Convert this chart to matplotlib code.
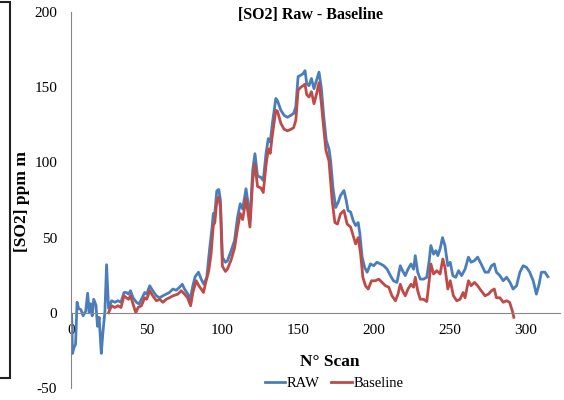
import matplotlib
matplotlib.use("Agg")
import matplotlib.pyplot as plt
from matplotlib.patches import Rectangle

plt.rcParams['font.family'] = ['Liberation Serif', 'DejaVu Serif']
plt.rcParams['axes.unicode_minus'] = False

# RAW series (scan number, value)
scan_raw = [0.4, 1, 2, 3, 4, 5, 6.6, 8, 9.7, 11, 12, 13, 14, 15, 16.5, 17.5, 18.6, 20, 21, 22.4,
            23.5, 24.8, 26.8, 29, 31, 33, 35, 36.6, 38, 39.3, 41, 43.2, 45, 46.5, 48.7, 50, 52, 54,
            56.4, 58.6, 60.7, 62.9, 65, 67.3, 69.5, 71.7, 73.5, 75, 77.2, 78.7, 80.5, 82, 84.2, 86,
            87.7, 89.7, 91.4, 93.2, 94, 95, 96.3, 97.6, 98.7, 100, 102, 103.3, 105.7, 108, 110,
            111.8, 113.4, 115.6, 116.7, 118.2, 120, 121.5, 123.2, 125.5, 127, 128.8, 130.3, 131.6,
            133, 135.3, 136.4, 138.6, 140.8, 143, 145.2, 147, 148.5, 150, 151.8, 153.3, 154.6,
            155.7, 157.2, 158.8, 160.5, 162.3, 163.8, 165.3, 167, 168.6, 170.4, 171.5, 173, 174.8,
            176.5, 178, 180.3, 181.8, 183, 184.7, 186.4, 188, 189.7, 190.8, 192.3, 194, 195.6,
            197.8, 200, 202, 204.4, 206.6, 208.8, 211, 213, 215.3, 217.5, 219, 220.8, 222.6, 224.6,
            226.3, 227.4, 229, 230.7, 232.9, 235, 236.6, 237.7, 239.5, 241, 242.3, 243.8, 245.4,
            247, 248.9, 250.5, 252.2, 254.1, 256, 258, 260.3, 262.5, 264.3, 266.5, 268.6, 270.9,
            273.5, 275.7, 277.8, 279.6, 281, 283.3, 285.5, 287.7, 290, 292, 294.3, 296.5, 298.7,
            300.9, 303, 305.3, 307.4, 309.2, 310.7, 313, 315]
raw = [-1, -27, -23, -21, 7, 3, 2, -2, 1, 13, 0, 6, -2, 9, 5, -9, -3, -27, -14, 1,
       32, 3, 8, 7, 8, 7, 13.5, 13.5, 12.4, 14.7, 10, 7, 5.8, 9, 13.5, 12.4, 18, 14.7,
       11.3, 10, 11.3, 12.4, 13.5, 15.8, 15, 17, 19, 15.8, 12.4, 9, 18, 24, 27, 22.4,
       19, 23.6, 41, 57, 66, 66, 81, 82, 75, 37, 33.6, 34.5, 41, 48, 63.5,
       72.5, 69, 82.5, 74.7, 61, 94.7, 105.8, 91, 90, 88, 105.8, 115.8, 113.5,
       125.8, 142.5, 141, 134.7, 131.3, 130, 131.3, 132.5, 137, 157, 158, 159, 161,
       152.5, 151, 155.8, 149, 155, 160, 150, 130, 114.7, 109, 101, 83.5, 70,
       73.5, 78, 81.3, 74.7, 68, 67, 61.3, 58, 60, 52.5, 37, 30, 27,
       32.5, 31.3, 33.6, 32.5, 31.3, 29, 24.7, 21.3, 20.2, 31.3, 28, 24.7, 29, 32.5,
       29, 38, 27, 22.4, 22.4, 23.6, 34.7, 44.7, 39, 41.3, 38, 42.5, 50,
       44.7, 31.3, 33.6, 24.7, 23.6, 28, 24.7, 29, 37, 33.6, 34.7, 37, 32.5,
       27, 27, 31.3, 32.5, 27, 24.7, 21.3, 23.6, 20.2, 15.8, 18, 27, 31.3,
       30.2, 27, 21.3, 12.4, 19, 27, 27, 24]

# Baseline series (scan number, value)
scan_base = [24.8, 26.8, 29, 31, 33, 35, 36.6, 38, 39.3, 41, 42.8, 44.3, 46.5, 48.7, 50, 52, 54,
             56.4, 58.5, 60.7, 62.9, 65, 67.3, 70.6, 72.8, 75, 77, 79, 80.5, 82.7, 84.4, 86, 87.5,
             89, 91, 92.5, 94, 95, 96.3, 97.6, 98.7, 100, 102, 103.3, 105.7, 108, 110, 111.8,
             113.4, 115.6, 116.7, 118.2, 120, 121.5, 123.2, 125.5, 127, 128.8, 130.3, 131.6, 133,
             135.3, 136.4, 138.6, 140.8, 143, 145.2, 147, 148.5, 150, 151.8, 153.3, 154.6, 155.7,
             157.2, 158.8, 160.5, 162.3, 163.8, 165.3, 167, 168.4, 170.4, 172.5, 174.3, 176, 178,
             180.3, 182.4, 184.7, 186.8, 188, 189.7, 191.3, 192.8, 194.5, 196.3, 198.5, 201,
             203.3, 205.5, 207.7, 209.9, 212, 214.3, 216, 217.5, 219, 220.8, 222.6, 224.6, 226.3,
             227.4, 229, 230.7, 232.9, 235, 236.6, 237.7, 239.5, 241.6, 243.8, 245.6, 247, 248.9,
             250.5, 252.6, 254.8, 257, 259, 260.3, 262.5, 264.3, 266.5, 268.6, 270.9, 273.5,
             275.7, 277.8, 279.6, 281, 283.3, 285.5, 287.7, 289.7, 291.5, 292.5]
baseline = [0, 4.7, 3.5, 4.7, 3.5, 11.3, 10, 9, 11.3, 5.8, 0, 3.5, 4.7, 10, 9, 14.7, 11.3,
            8, 9, 7, 9, 10, 11.3, 12.4, 14.7, 12.4, 10, 4.7, 13.5, 21.3, 18, 15.8, 13.5,
            20.2, 28, 39, 58, 60, 74, 77, 70, 31, 27.5, 29, 35, 43, 56, 66,
            62, 76, 68, 57, 88, 99, 84, 83, 80, 98, 109, 106, 118,
            134.7, 134, 126, 122, 121, 122, 123, 128, 148, 150, 151, 152, 145,
            143.5, 147, 139, 146, 153, 140, 122, 108, 101, 74.7, 60, 59, 65.8,
            68, 59, 57, 50, 45.8, 50, 39, 23.6, 18, 15.8, 21.3, 21.3,
            22.4, 20.2, 18, 17, 11.3, 8, 12.4, 19, 14.7, 11.3, 15.8, 19, 17,
            23.6, 14.7, 9, 9, 7.5, 21.3, 32.5, 25.8, 28, 25.8, 35.8, 30.2, 15.8,
            21.3, 11.3, 8, 9, 13.5, 10, 21.3, 18, 20.2, 18, 14.7, 11.3,
            12.4, 14.7, 15.8, 10, 10, 7, 8, 7, 1.3, -3]

y_ticks = [-50, 0, 50, 100, 150, 200]
x_ticks = [0, 50, 100, 150, 200, 250, 300]

fig = plt.figure(figsize=(5.64, 4.0), dpi=100)
ax = fig.add_axes([71 / 564, 12 / 400, (560 - 71) / 564, (388 - 12) / 400])

ax.plot(scan_raw, raw, color='#4A7EBB', lw=2.0, label='RAW')
ax.plot(scan_base, baseline, color='#BE4B48', lw=2.0, label='Baseline')

ax.set_xlim(0, 323)
ax.set_ylim(-50, 200)
ax.set_xticks(x_ticks)
ax.set_yticks(y_ticks)
ax.tick_params(axis='both', length=0, labelsize=11)
ax.tick_params(axis='x', pad=8)
ax.tick_params(axis='y', pad=10)

for s in ['top', 'right']:
    ax.spines[s].set_visible(False)
ax.spines['bottom'].set_position(('data', 0))
ax.spines['left'].set_color('#868686')
ax.spines['bottom'].set_color('#868686')

fig.text(311 / 564, 1 - 15 / 400, '[SO2] Raw - Baseline', ha='center', va='center',
         fontsize=11.5, fontweight='bold')
fig.text(22 / 564, 1 - 202 / 400, '[SO2] ppm m', ha='center', va='center',
         rotation=90, fontsize=12.5, fontweight='bold')
fig.text(330 / 564, 1 - 362 / 400, 'N° Scan', ha='center', va='center',
         fontsize=12.5, fontweight='bold')
fig.legend(loc='center', bbox_to_anchor=(334 / 564, 1 - 383 / 400), ncol=2, frameon=False,
           fontsize=10.5, handlelength=1.4, handletextpad=0.1, columnspacing=0.8)

# cropped frame at the left edge
fig.patches.append(Rectangle((-0.02, 0.055), 0.038, 0.94, transform=fig.transFigure,
                             fill=False, lw=1.5, edgecolor='#222222'))

fig.savefig('out.png', dpi=100)
